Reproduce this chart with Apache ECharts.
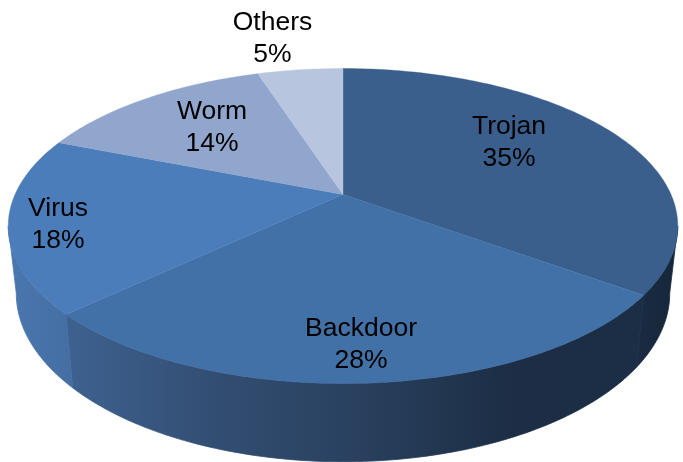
<!DOCTYPE html>
<html><head><meta charset="utf-8">
<style>html,body{margin:0;padding:0;background:#fff}#c{width:683px;height:462px}</style>
<script src="https://cdn.jsdelivr.net/npm/echarts@6/dist/echarts.min.js"></script>
</head><body><div id="c"></div>
<script>
const categories = ['Trojan', 'Backdoor', 'Virus', 'Worm', 'Others'];
const shares = [35, 28, 18, 14, 5];

// styling and layout, separate from the data
const topColors = ['#3a5f8c', '#4271a7', '#4b7dba', '#91a6cd', '#b8c5df'];
const sideStops = [
  [[0, '#1a2c42'], [1, '#16263a']],
  [[0, '#3e6290'], [0.25, '#334e73'], [0.5, '#29415f'], [0.78, '#1c2d44'], [1, '#1b2e46']],
  [[0, '#4a77af'], [1, '#446ea3']],
  [[0, '#91a6cd'], [1, '#91a6cd']],
  [[0, '#b8c5df'], [1, '#b8c5df']]
];
const labelCentres = [[509, 143], [361, 345], [58, 225], [212, 128], [272.5, 39]];

const total = shares.reduce((a, b) => a + b, 0);
const starts = [];
shares.reduce((acc, v, i) => (starts[i] = acc, acc + v), 0);

const CX = 343, CY = 194.5, A = 328, B = 151.2, K = 0.2;
const BASE_X = 0.976, BASE_Y = 1.07, BASE_Y0 = 259.5;
const rimRight = 101.5, rimLeft = 258.5;

function topPoint(deg) {
  const t = deg * Math.PI / 180, u = Math.sin(t), v = -Math.cos(t), d = 1 - K * v;
  return [CX + A * u / d, CY + B * v / d];
}
function basePoint(deg) {
  const p = topPoint(deg);
  return [CX + BASE_X * (p[0] - CX), BASE_Y0 + BASE_Y * (p[1] - CY)];
}
function arc(fn, a, b) {
  const n = Math.max(2, Math.ceil(Math.abs(b - a))), out = [];
  for (let i = 0; i <= n; i++) out.push(fn(a + (b - a) * i / n));
  return out;
}

const rows = shares.map((v, i) => ({ name: categories[i], value: [v, starts[i]] }));

const option = {
  animation: false,
  backgroundColor: '#ffffff',
  series: [
    {
      type: 'custom', coordinateSystem: 'none', silent: true, z: 1, data: rows,
      renderItem(params, api) {
        const i = params.dataIndex;
        const a = Math.max(api.value(1) / total * 360, rimRight);
        const b = Math.min((api.value(1) + api.value(0)) / total * 360, rimLeft);
        if (b <= a) return { type: 'group', children: [] };
        const pts = arc(topPoint, a, b).concat(arc(basePoint, b, a));
        const xs = pts.map(p => p[0]);
        const stops = sideStops[i].map(s => ({ offset: s[0], color: s[1] }));
        const fill = new echarts.graphic.LinearGradient(
          Math.min(...xs), 0, Math.max(...xs), 0, stops, true);
        return {
          type: 'polygon', shape: { points: pts },
          style: { fill, stroke: fill, lineWidth: 0.8 }
        };
      }
    },
    {
      type: 'custom', coordinateSystem: 'none', silent: true, z: 2, data: rows,
      renderItem(params, api) {
        const i = params.dataIndex;
        const a = api.value(1) / total * 360;
        const b = (api.value(1) + api.value(0)) / total * 360;
        const pts = [[CX, CY]].concat(arc(topPoint, a, b));
        return {
          type: 'polygon', shape: { points: pts },
          style: { fill: topColors[i], stroke: topColors[i], lineWidth: 0.4 }
        };
      }
    },
    {
      type: 'custom', coordinateSystem: 'none', silent: true, z: 3, data: rows,
      renderItem(params, api) {
        const i = params.dataIndex;
        return {
          type: 'text',
          style: {
            x: labelCentres[i][0], y: labelCentres[i][1],
            text: categories[i] + '\n' + Math.round(api.value(0) / total * 100) + '%',
            font: '26.5px "Liberation Sans", Arial, sans-serif',
            lineHeight: 32, fill: '#000000', align: 'center', verticalAlign: 'middle'
          }
        };
      }
    }
  ]
};
echarts.init(document.getElementById('c'), null, { renderer: 'canvas' }).setOption(option);
</script></body></html>
